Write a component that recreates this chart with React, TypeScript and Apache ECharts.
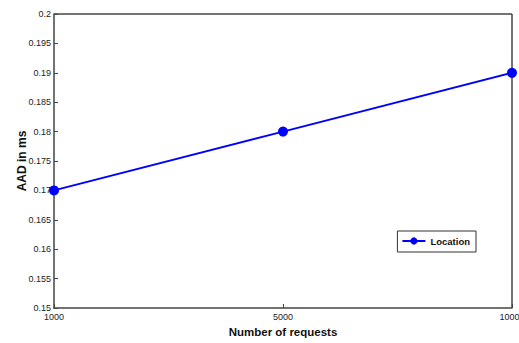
import React, { useEffect, useRef } from "react";
import * as echarts from "echarts";

const categories = ["1000", "5000", "10000"];
const locationValues = [0.17, 0.18, 0.19];
const seriesName = "Location";
const yTitle = "AAD in ms";
const xTitle = "Number of requests";

const narrow = "'Liberation Sans Narrow', 'Liberation Sans', Arial, sans-serif";

export default function App() {
  const ref = useRef<HTMLDivElement>(null);
  useEffect(() => {
    if (!ref.current) return;
    const chart = echarts.init(ref.current, null, { renderer: "svg" });
    chart.setOption({
      animation: false,
      backgroundColor: "#ffffff",
      grid: { left: 54, top: 14, right: 7, bottom: 35, show: false, outerBoundsMode: "none", containLabel: false },
      legend: {
        show: true,
        data: [seriesName],
        right: 43,
        top: 231,
        orient: "vertical",
        backgroundColor: "#ffffff",
        borderColor: "#333333",
        borderWidth: 1,
        padding: [5, 6, 6, 4],
        itemWidth: 23,
        itemHeight: 9,
        itemGap: 2,
        textStyle: { fontFamily: narrow, fontSize: 9.5, fontWeight: "bold", color: "#111" },
      },
      xAxis: {
        type: "category",
        data: categories,
        boundaryGap: false,
        name: xTitle,
        nameLocation: "middle",
        nameGap: 17,
        nameTextStyle: { fontFamily: narrow, fontSize: 11.5, fontWeight: "bold", color: "#111" },
        axisLine: { show: true, lineStyle: { color: "#444", width: 1.5 } },
        axisTick: { show: true, inside: true, length: 4, alignWithLabel: true, lineStyle: { color: "#444" } },
        axisLabel: { fontFamily: narrow, fontSize: 9, color: "#222", margin: 4 },
        splitLine: { show: false },
      },
      yAxis: {
        type: "value",
        min: 0.15,
        max: 0.2,
        interval: 0.005,
        name: yTitle,
        nameLocation: "middle",
        nameGap: 26,
        nameMoveOverlap: false,
        nameTextStyle: { fontFamily: "'Liberation Sans', Arial, sans-serif", fontSize: 12, fontWeight: "bold", color: "#111" },
        axisLine: { show: true, lineStyle: { color: "#444", width: 1.5 } },
        axisTick: { show: true, inside: true, length: 4, lineStyle: { color: "#444" } },
        axisLabel: {
          fontFamily: narrow,
          fontSize: 9,
          color: "#222",
          margin: 3,
          formatter: (v: number) => String(parseFloat(v.toFixed(3))),
        },
        splitLine: { show: false },
      },
      graphic: [
        {
          type: "line",
          shape: { x1: 54, y1: 14, x2: 512, y2: 14 },
          style: { stroke: "#444", lineWidth: 1.5 },
          silent: true,
        },
        {
          type: "line",
          shape: { x1: 512, y1: 14, x2: 512, y2: 308 },
          style: { stroke: "#444", lineWidth: 1.5 },
          silent: true,
        },
      ],
      series: [
        {
          name: seriesName,
          type: "line",
          data: locationValues,
          symbol: "circle",
          symbolSize: 10,
          itemStyle: { color: "#0000ff" },
          lineStyle: { color: "#0000ff", width: 2 },
        },
      ],
    });
    return () => chart.dispose();
  }, []);
  return (
    <div
      ref={ref}
      style={{ position: "fixed", left: 0, top: 0, width: 519, height: 343, background: "#fff" }}
    />
  );
}
